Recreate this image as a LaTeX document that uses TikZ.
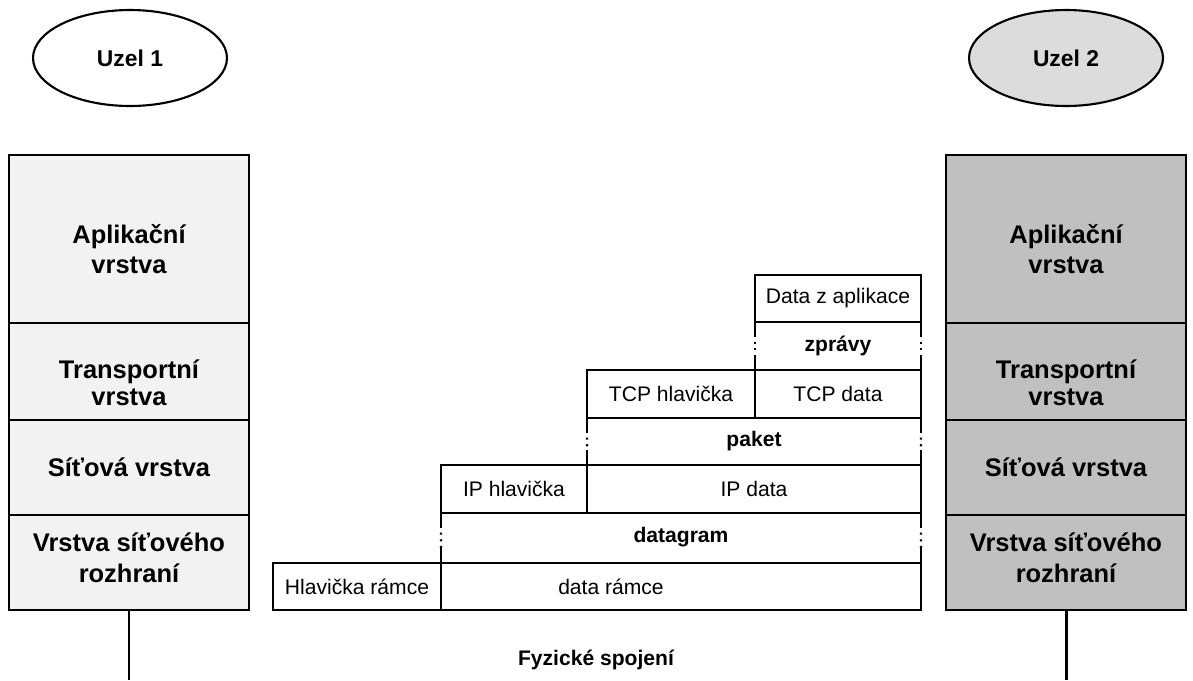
\documentclass[tikz,border=0pt]{standalone}
\usepackage{fontspec}
\setmainfont{Liberation Sans}
\usetikzlibrary{shapes.geometric}

\definecolor{lightdot}{HTML}{F2F2F2}
\definecolor{nodegray}{HTML}{DCDCDC}
\definecolor{stackgray}{HTML}{C0C0C0}

\tikzset{
  host/.style={draw, ellipse, line width=1.2pt, minimum width=3.88cm, minimum height=1.92cm,
    font=\fontsize{13}{15}\selectfont\bfseries},
  layer/.style={draw, rectangle, line width=1.2pt, minimum width=4.8cm, inner sep=0pt, outer sep=0pt},
  layertext/.style={align=center, font=\fontsize{14.5}{17.5}\selectfont\bfseries},
  cell/.style={draw, rectangle, line width=0.9pt, inner sep=0pt, outer sep=0pt,
    font=\fontsize{12}{14}\selectfont},
  unit/.style={font=\fontsize{12}{14}\selectfont\bfseries},
  wire/.style={line width=1.7pt}
}

% solid ends, two dots between
\newcommand{\sides}[2]{%
  \draw[line width=1pt] (#1) -- ++(0,15) coordinate (t);
  \draw[line width=1pt] (#2) -- ++(0,-15) coordinate (b);
  \draw[line width=1.3pt, dash pattern=on 1.2pt off 2.6pt, dash phase=1.2pt] (t) -- (b);}

\begin{document}
\begin{tikzpicture}[x=0.02cm, y=-0.02cm]
  \useasboundingbox (0,0) rectangle (1193,680);

  % hosts
  \node[host] (uzel1) at (130,58) {Uzel 1};
  \node[host, fill=nodegray] (uzel2) at (1066,58) {Uzel 2};

  % left stack
  \node[layer, fill=lightdot, minimum height=3.36cm] (app1) at (129,239) {};
  \node[layer, fill=lightdot, minimum height=1.94cm] (tr1) at (129,371.5) {};
  \node[layer, fill=lightdot, minimum height=1.9cm] (net1) at (129,467.5) {};
  \node[layer, fill=lightdot, minimum height=1.9cm] (link1) at (129,562.5) {};
  \node[layertext] (app1t) at ([yshift=-0.2cm]app1.center) {Aplikační\\vrstva};
  \node[layertext, font=\fontsize{14.5}{15.5}\selectfont\bfseries] (tr1t) at ([yshift=-0.22cm]tr1.center) {Transportní\\vrstva};
  \node[layertext] (net1t) at (net1.center) {Síťová vrstva};
  \node[layertext] (link1t) at ([yshift=0.1cm]link1.center) {Vrstva síťového\\rozhraní};

  % right stack
  \node[layer, fill=stackgray, minimum height=3.36cm] (app2) at (1066,239) {};
  \node[layer, fill=stackgray, minimum height=1.94cm] (tr2) at (1066,371.5) {};
  \node[layer, fill=stackgray, minimum height=1.9cm] (net2) at (1066,467.5) {};
  \node[layer, fill=stackgray, minimum height=1.9cm] (link2) at (1066,562.5) {};
  \node[layertext] (app2t) at ([yshift=-0.2cm]app2.center) {Aplikační\\vrstva};
  \node[layertext, font=\fontsize{14.5}{15.5}\selectfont\bfseries] (tr2t) at ([yshift=-0.22cm]tr2.center) {Transportní\\vrstva};
  \node[layertext] (net2t) at (net2.center) {Síťová vrstva};
  \node[layertext] (link2t) at ([yshift=0.1cm]link2.center) {Vrstva síťového\\rozhraní};

  % encapsulation
  \node[cell, minimum width=3.32cm, minimum height=0.94cm] (data) at (838,298.5) {Data z aplikace};
  \node[unit] (zpravy) at (838,346) {zprávy};
  \node[cell, minimum width=3.36cm, minimum height=0.96cm] (tcph) at (671,394) {TCP hlavička};
  \node[cell, minimum width=3.32cm, minimum height=0.96cm] (tcpd) at (838,394) {TCP data};
  \node[unit] (paket) at (754,441) {paket};
  \node[cell, minimum width=2.92cm, minimum height=0.96cm] (iph) at (514,489) {IP hlavička};
  \node[cell, minimum width=6.68cm, minimum height=0.96cm] (ipd) at (754,489) {IP data};
  \node[unit] (datagram) at (681,537) {datagram};
  \node[cell, minimum width=3.36cm, minimum height=0.94cm] (frh) at (357,586.5) {Hlavička rámce};
  \node[cell, minimum width=9.6cm, minimum height=0.94cm] (frd) at (681,586.5) {};
  \node[font=\fontsize{12}{14}\selectfont] (frdtext) at (611,586.5) {data rámce};

  \sides{data.south west}{tcpd.north west}
  \sides{data.south east}{tcpd.north east}
  \sides{tcph.south west}{ipd.north west}
  \sides{tcpd.south east}{ipd.north east}
  \sides{iph.south west}{frd.north west}
  \sides{ipd.south east}{frd.north east}

  % physical link
  \coordinate (phy1) at (129,680);
  \coordinate (phy2) at (1066,680);
  \draw[wire] (link1.south) -- (phy1);
  \draw[wire] (link2.south) -- (phy2);
  \node[unit] (fyz) at (596,660) {Fyzické spojení};
\end{tikzpicture}
\end{document}
